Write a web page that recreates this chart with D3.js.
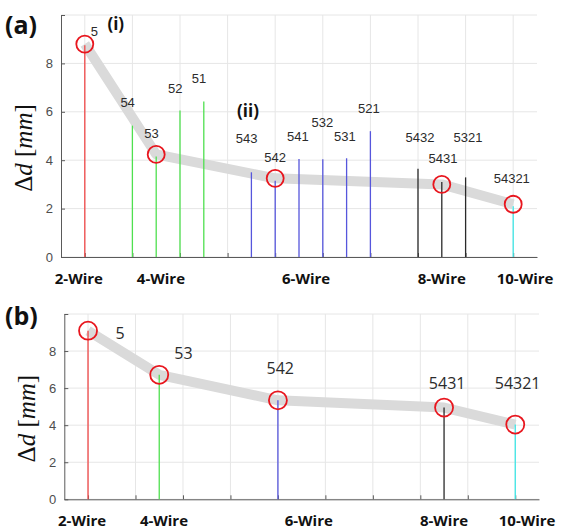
<!DOCTYPE html>
<html>
<head>
<meta charset="utf-8">
<title>Delta d per wire count</title>
<script src="https://cdnjs.cloudflare.com/ajax/libs/d3/7.8.5/d3.min.js"></script>
<style>
  html, body { margin: 0; padding: 0; background: #fff; }
  svg { display: block; }
  .tick text { font-family: 'Liberation Sans', Arial, sans-serif; fill: #4d4d4d; }
</style>
</head>
<body>
<div id="chart"></div>
<script>
// ---- panel (a) data ----
const stemX_a = [1, 3, 4, 5, 6, 8, 9, 10, 11, 12, 13, 15, 16, 17, 19];
const stemVal_a = [8.75, 5.43, 4.15, 6.05, 6.43, 3.5, 3.15, 4.05, 4.04, 4.08, 5.2, 3.65, 3.1, 3.29, 2.1];
const stemName_a = ['5', '54', '53', '52', '51', '543', '542', '541', '532', '531', '521', '5432', '5431', '5321', '54321'];
const stemWire_a = [2, 4, 4, 4, 4, 6, 6, 6, 6, 6, 6, 8, 8, 8, 10];
const labelX_a = [1.4, 2.8, 3.8, 4.8, 5.8, 7.8, 9.0, 9.95, 10.98, 11.93, 12.94, 15.08, 16.05, 17.1, 18.94];
const labelY_a = [9.13, 6.2, 4.92, 6.78, 7.19, 4.71, 3.93, 4.79, 5.37, 4.79, 5.96, 4.74, 3.87, 4.74, 3.05];
const bestX_a = [1, 4, 9, 16, 19];
const bestVal_a = [8.8, 4.24, 3.25, 3.0, 2.18];

// ---- panel (b) data ----
const stemX_b = [1, 4, 9, 16, 19];
const stemVal_b = [9.1, 6.72, 5.34, 4.95, 4.03];
const stemName_b = ['5', '53', '542', '5431', '54321'];
const stemWire_b = [2, 4, 6, 8, 10];
const labelX_b = [2.35, 5.02, 9.1, 16.13, 19.1];
const labelY_b = [8.66, 7.58, 6.77, 5.97, 5.97];

// ---- shared ----
const wireNames = ['2-Wire', '4-Wire', '6-Wire', '8-Wire', '10-Wire'];
const wirePos = [0.75, 4.2, 10.3, 16.0, 19.5];
const yTicks = [0, 2, 4, 6, 8, 10];
const gridX = [1, 3, 5, 7, 9, 11, 13, 15, 17, 19];

const wireColor = { 2: '#f04848', 4: '#4fe04f', 6: '#5656dc', 8: '#2a2a2a', 10: '#3fe6e6' };

const svg = d3.select('#chart').append('svg')
  .attr('width', 562).attr('height', 532);

function panel(opt) {
  const x = d3.scaleLinear().domain([0, 20]).range([opt.left, opt.right]);
  const y = d3.scaleLinear().domain([0, 10]).range([opt.bottom, opt.top]);
  const g = svg.append('g');

  // grid
  g.append('g').selectAll('line').data(yTicks).join('line')
    .attr('x1', opt.left).attr('x2', opt.right)
    .attr('y1', d => y(d)).attr('y2', d => y(d))
    .attr('stroke', '#e6e6e6').attr('stroke-width', 1);
  g.append('g').selectAll('line').data(gridX).join('line')
    .attr('x1', d => x(d)).attr('x2', d => x(d))
    .attr('y1', y(0)).attr('y2', y(10))
    .attr('stroke', '#e6e6e6').attr('stroke-width', 1);

  // axes (MATLAB style: inward ticks, top label hidden)
  const yAxis = d3.axisLeft(y).tickValues(yTicks).tickSizeOuter(0).tickSizeInner(-4).tickPadding(8)
    .tickFormat(d => d === 10 ? '' : d);
  const ya = g.append('g').attr('transform', `translate(${opt.left},0)`).call(yAxis);
  ya.selectAll('text').style('font-size', '13px');
  ya.select('.domain').attr('stroke', '#5a5a5a');
  ya.selectAll('.tick line').attr('stroke', '#5a5a5a');

  const xAxis = d3.axisBottom(x).tickValues(gridX).tickSizeOuter(0).tickSizeInner(-4).tickFormat('');
  const xa = g.append('g').attr('transform', `translate(0,${opt.bottom})`).call(xAxis);
  xa.select('.domain').attr('stroke', '#5a5a5a');
  xa.selectAll('.tick line').attr('stroke', '#5a5a5a');

  // gray trend band
  const line = d3.line().x(d => x(d[0])).y(d => y(d[1]));
  g.append('path')
    .datum(d3.zip(opt.bestX, opt.bestVal))
    .attr('d', line)
    .attr('fill', 'none').attr('stroke', '#dadada')
    .attr('stroke-width', 10).attr('stroke-linejoin', 'round');

  // stems
  g.append('g').selectAll('line').data(d3.range(opt.stemX.length)).join('line')
    .attr('x1', i => x(opt.stemX[i])).attr('x2', i => x(opt.stemX[i]))
    .attr('y1', y(0)).attr('y2', i => y(opt.stemVal[i]))
    .attr('stroke', i => wireColor[opt.stemWire[i]]).attr('stroke-width', 1.3);

  // red circles
  g.append('g').selectAll('circle').data(d3.range(opt.bestX.length)).join('circle')
    .attr('cx', i => x(opt.bestX[i])).attr('cy', i => y(opt.bestVal[i]))
    .attr('r', opt.r).attr('fill', 'none')
    .attr('stroke', '#e8161e').attr('stroke-width', 1.8);

  // stem labels
  g.append('g').selectAll('text').data(d3.range(opt.stemName.length)).join('text')
    .attr('x', i => x(opt.labelX[i])).attr('y', i => y(opt.labelY[i]))
    .attr('text-anchor', 'middle')
    .style('font-family', opt.labelFont).style('font-size', opt.labelSize + 'px')
    .style('fill', '#2b2b2b')
    .text(i => opt.stemName[i]);

  // wire count labels
  g.append('g').selectAll('text').data(wireNames).join('text')
    .attr('x', (d, i) => x(wirePos[i])).attr('y', opt.bottom + opt.wireDy)
    .attr('text-anchor', 'middle')
    .style('font-family', "'Open Sans', sans-serif").style('font-weight', 'bold')
    .style('font-size', '15px').style('fill', '#111')
    .text(d => d);

  // y label: Δd [mm]
  const yl = g.append('text')
    .attr('transform', `translate(${opt.left - 29},${(opt.top + opt.bottom) / 2 + 12}) rotate(-90)`)
    .attr('text-anchor', 'middle')
    .style('font-family', "'Liberation Serif', 'DejaVu Serif', serif")
    .style('font-size', '25px').style('fill', '#111');
  yl.append('tspan').text('Δ');
  yl.append('tspan').style('font-style', 'italic').text('d');
  yl.append('tspan').text(' [');
  yl.append('tspan').style('font-style', 'italic').text('mm');
  yl.append('tspan').text(']');

  // panel tag
  svg.append('text').attr('x', 5).attr('y', opt.tagY)
    .style('font-family', "'Open Sans', sans-serif").style('font-weight', 'bold')
    .style('font-size', '25px').style('fill', '#111')
    .text(opt.tag);

  return { x, y, g };
}

const pa = panel({
  left: 61, right: 537, top: 15, bottom: 257,
  stemX: stemX_a, stemVal: stemVal_a, stemName: stemName_a, stemWire: stemWire_a,
  labelX: labelX_a, labelY: labelY_a, bestX: bestX_a, bestVal: bestVal_a,
  r: 8.5, labelFont: "'Liberation Sans', Arial, sans-serif", labelSize: 13,
  wireDy: 27, tag: '(a)', tagY: 34
});

// roman annotations in (a)
pa.g.append('text').attr('x', pa.x(1.95)).attr('y', pa.y(9.4))
  .style('font-family', "'Open Sans', sans-serif").style('font-weight', 'bold')
  .style('font-size', '17px').style('fill', '#111').text('(i)');
pa.g.append('text').attr('x', pa.x(7.4)).attr('y', pa.y(5.8))
  .style('font-family', "'Open Sans', sans-serif").style('font-weight', 'bold')
  .style('font-size', '17px').style('fill', '#111').text('(ii)');

panel({
  left: 64.3, right: 539, top: 314, bottom: 499.3,
  stemX: stemX_b, stemVal: stemVal_b, stemName: stemName_b, stemWire: stemWire_b,
  labelX: labelX_b, labelY: labelY_b, bestX: stemX_b, bestVal: stemVal_b,
  r: 9, labelFont: "'Open Sans', sans-serif", labelSize: 16,
  wireDy: 27, tag: '(b)', tagY: 325
});
</script>
</body>
</html>
